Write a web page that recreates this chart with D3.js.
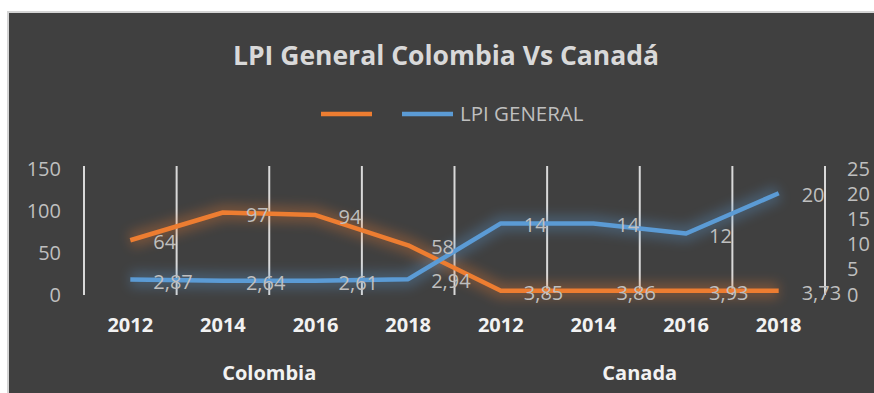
<!DOCTYPE html>
<html><head><meta charset="utf-8">
<script src="https://cdn.jsdelivr.net/npm/d3@7"></script>
<style>body{margin:0;background:#fff;} svg{display:block}</style>
</head><body><svg id="c" width="874" height="393"></svg>
<script>
const years = ["2012","2014","2016","2018","2012","2014","2016","2018"];
const groups = ["Colombia","Canada"];
const groupOf = [0,0,0,0,1,1,1,1];
const orangeName = "";
const orangeValues = [64,97,94,58,3.85,3.86,3.93,3.73];
const blueName = "LPI GENERAL";
const blueValues = [2.87,2.64,2.61,2.94,14,14,12,20];
const leftTicks = [0,50,100,150];
const rightTicks = [0,5,10,15,20,25];
const title = "LPI General Colombia Vs Canadá";

const ORANGE = "#ED7D31", BLUE = "#5B9BD5";
const FONT = "'Open Sans', sans-serif";
const svg = d3.select("#c");

// background / border
svg.append("rect").attr("x",7).attr("y",11).attr("width",867).attr("height",382).attr("fill","#d4d4d4");
svg.append("rect").attr("x",9).attr("y",13).attr("width",865).attr("height",380).attr("fill","#404040");

const defs = svg.append("defs");
const f = defs.append("filter").attr("id","glow").attr("x","-20%").attr("y","-50%").attr("width","140%").attr("height","200%");
f.append("feGaussianBlur").attr("stdDeviation",6);

const idx = d3.range(years.length);
const x = d3.scaleBand().domain(idx).range([84,825]).padding(0);
const cx = i => x(i) + x.bandwidth()/2;
const yL = d3.scaleLinear().domain([0,150]).range([294,168]);
const yR = d3.scaleLinear().domain([0,25]).range([294,168]);

// title
svg.append("text").attr("x",446).attr("y",65).attr("text-anchor","middle")
  .attr("font-family",FONT).attr("font-weight","bold").attr("font-size",26.5)
  .attr("fill","#d9d9d9").text(title);

// legend
const lg = svg.append("g");
lg.append("line").attr("x1",321).attr("x2",372).attr("y1",114).attr("y2",114).attr("stroke",ORANGE).attr("stroke-width",4.5);
lg.append("line").attr("x1",402).attr("x2",453).attr("y1",114).attr("y2",114).attr("stroke",BLUE).attr("stroke-width",4.5);
lg.append("text").attr("x",460).attr("y",114).attr("dy","0.35em").attr("font-family",FONT).attr("font-size",20.5)
  .attr("fill","#bfbfbf").text(blueName);

// vertical gridlines at band boundaries
const bounds = idx.map(i => x(i)).concat([x.range()[1]]);
svg.append("g").selectAll("line").data(bounds).join("line")
  .attr("x1",d=>d).attr("x2",d=>d).attr("y1",166).attr("y2",295)
  .attr("stroke","#d9d9d9").attr("stroke-width",2);

// axes
const axL = svg.append("g").attr("transform","translate(64,0)")
  .call(d3.axisLeft(yL).tickValues(leftTicks).tickSize(0).tickPadding(3));
const axR = svg.append("g").attr("transform","translate(844,0)")
  .call(d3.axisRight(yR).tickValues(rightTicks).tickSize(0).tickPadding(3));
[axL,axR].forEach(a=>{a.select(".domain").remove();
  a.selectAll("text").attr("font-family",FONT).attr("font-size",20).attr("fill","#bfbfbf").attr("dy","0.35em");});

const axX = svg.append("g").attr("transform","translate(0,294)")
  .call(d3.axisBottom(x).tickFormat(i=>years[i]).tickSize(0).tickPadding(24));
axX.select(".domain").remove();
axX.selectAll("text").attr("font-family",FONT).attr("font-size",20).attr("font-weight","bold").attr("fill","#f2f2f2");

// group labels
svg.append("g").selectAll("text").data(groups).join("text")
  .attr("x",(g,gi)=>{const m=idx.filter(i=>groupOf[i]===gi);return (x(m[0])+x(m[m.length-1])+x.bandwidth())/2;})
  .attr("y",380).attr("text-anchor","middle").attr("font-family",FONT).attr("font-size",20).attr("font-weight","bold")
  .attr("fill","#f2f2f2").text(d=>d);

// series
const series = [
  {vals:orangeValues, y:yL, color:ORANGE},
  {vals:blueValues, y:yR, color:BLUE}
];
series.forEach(s=>{
  const line = d3.line().x((d,i)=>cx(i)).y(d=>s.y(d));
  svg.append("path").attr("d",line(s.vals)).attr("fill","none").attr("stroke",s.color)
    .attr("stroke-width",16).attr("opacity",0.3).attr("filter","url(#glow)");
});
series.forEach(s=>{
  const line = d3.line().x((d,i)=>cx(i)).y(d=>s.y(d));
  svg.append("path").attr("d",line(s.vals)).attr("fill","none").attr("stroke",s.color)
    .attr("stroke-width",4.5).attr("stroke-linejoin","round");
});
const fmt = v => String(v).replace(".",",");
series.forEach(s=>{
  svg.append("g").selectAll("text").data(s.vals).join("text")
    .attr("x",(d,i)=>cx(i)+23).attr("y",d=>s.y(d)+2).attr("dy","0.35em")
    .attr("font-family",FONT).attr("font-size",20).attr("fill","#bfbfbf").text(fmt);
});
</script></body></html>
